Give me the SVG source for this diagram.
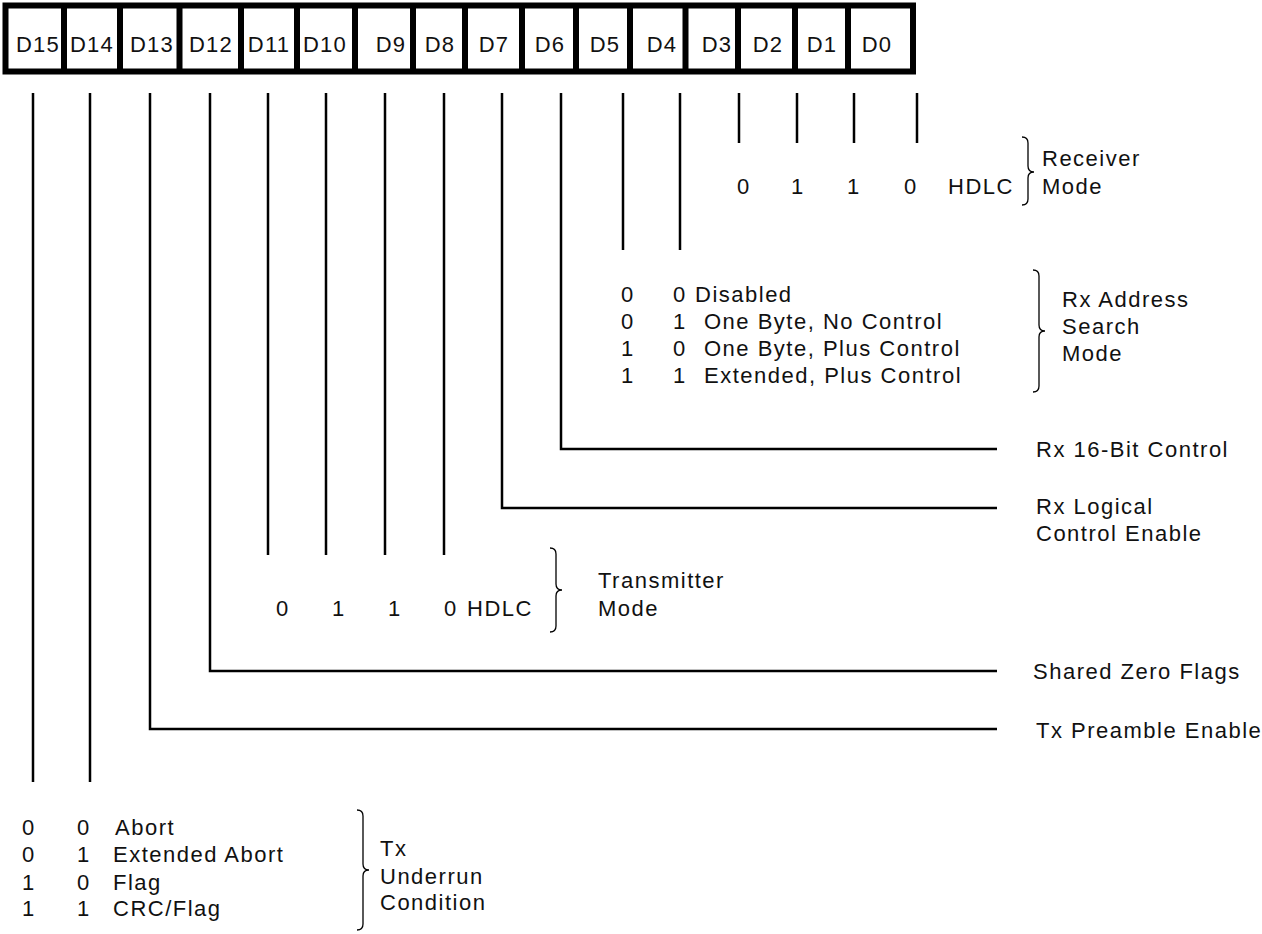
<svg xmlns="http://www.w3.org/2000/svg" width="1262" height="934" viewBox="0 0 1262 934">
<style>
text{font-family:"Liberation Sans",Arial,sans-serif;fill:#111;}
.cell{font-size:22px;text-anchor:middle;letter-spacing:1.2px;}
.t{font-size:22px;letter-spacing:1.5px;}
.c{font-size:22px;text-anchor:middle;}
.ln{stroke:#000;stroke-width:2.5;fill:none;}
.br{stroke:#000;stroke-width:1.3;fill:none;}
.box{stroke:#000;stroke-width:6;fill:#fff;}
</style>
<rect width="1262" height="934" fill="#fff"/>
<g id="register">
<rect class="box" x="5.5" y="5.5" width="907.5" height="66"/>
<path class="ln" style="stroke-width:6" d="M64 5v67M120 5v67M179.5 5v67M241 5v67M297 5v67M355 5v67M413 5v67M465 5v67M522 5v67M576 5v67M630 5v67M685.5 5v67M738 5v67M795 5v67M848 5v67"/>
<text class="cell" x="38" y="52">D15</text>
<text class="cell" x="92" y="52">D14</text>
<text class="cell" x="152" y="52">D13</text>
<text class="cell" x="211" y="52">D12</text>
<text class="cell" x="269" y="52">D11</text>
<text class="cell" x="325" y="52">D10</text>
<text class="cell" x="391" y="52">D9</text>
<text class="cell" x="440" y="52">D8</text>
<text class="cell" x="494" y="52">D7</text>
<text class="cell" x="550" y="52">D6</text>
<text class="cell" x="605" y="52">D5</text>
<text class="cell" x="662" y="52">D4</text>
<text class="cell" x="717" y="52">D3</text>
<text class="cell" x="768" y="52">D2</text>
<text class="cell" x="822" y="52">D1</text>
<text class="cell" x="877" y="52">D0</text>
</g>
<g id="connectors">
<path class="ln" d="M33 93V782M90 93V782"/>
<path class="ln" d="M150 93V729H997"/>
<path class="ln" d="M210 93V671H997"/>
<path class="ln" d="M268 93V555M326 93V555M385 93V555M444 93V555"/>
<path class="ln" d="M502 93V508H997"/>
<path class="ln" d="M561 93V449H997"/>
<path class="ln" d="M623 93V250M680 93V250"/>
<path class="ln" d="M739 93V143M797 93V143M854 93V143M917 93V143"/>
</g>
<g id="receiver-mode">
<text class="c" x="743" y="194">0</text>
<text class="c" x="797" y="194">1</text>
<text class="c" x="853" y="194">1</text>
<text class="c" x="910" y="194">0</text>
<text class="t" x="948" y="194">HDLC</text>
<path class="br" d="M1022 137Q1028 137 1028 143V166Q1028 172 1034 172Q1028 172 1028 178V199Q1028 205 1022 205"/>
<text class="t" x="1042" y="166">Receiver</text>
<text class="t" x="1042" y="194">Mode</text>
</g>
<g id="rx-address-search-mode">
<text class="c" x="627" y="302">0</text><text class="c" x="679" y="302">0</text><text class="t" x="695" y="302">Disabled</text>
<text class="c" x="627" y="329">0</text><text class="c" x="679" y="329">1</text><text class="t" x="704" y="329">One Byte, No Control</text>
<text class="c" x="627" y="356">1</text><text class="c" x="679" y="356">0</text><text class="t" x="704" y="356">One Byte, Plus Control</text>
<text class="c" x="627" y="383">1</text><text class="c" x="679" y="383">1</text><text class="t" x="704" y="383">Extended, Plus Control</text>
<path class="br" d="M1033 270Q1039 270 1039 276V325Q1039 331 1045 331Q1039 331 1039 337V386Q1039 392 1033 392"/>
<text class="t" x="1062" y="307">Rx Address</text>
<text class="t" x="1062" y="334">Search</text>
<text class="t" x="1062" y="361">Mode</text>
</g>
<g id="rx-16-bit-control">
<text class="t" x="1036" y="457">Rx 16-Bit Control</text>
</g>
<g id="rx-logical-control-enable">
<text class="t" x="1036" y="514">Rx Logical</text>
<text class="t" x="1036" y="541">Control Enable</text>
</g>
<g id="transmitter-mode">
<text class="c" x="282" y="616">0</text>
<text class="c" x="338" y="616">1</text>
<text class="c" x="394" y="616">1</text>
<text class="c" x="450" y="616">0</text>
<text class="t" x="467" y="616">HDLC</text>
<path class="br" d="M550 548Q556 548 556 554V584Q556 590 562 590Q556 590 556 596V626Q556 632 550 632"/>
<text class="t" x="598" y="588">Transmitter</text>
<text class="t" x="598" y="616">Mode</text>
</g>
<g id="shared-zero-flags">
<text class="t" x="1033" y="679">Shared Zero Flags</text>
</g>
<g id="tx-preamble-enable">
<text class="t" x="1036" y="738">Tx Preamble Enable</text>
</g>
<g id="tx-underrun-condition">
<text class="c" x="28" y="835">0</text><text class="c" x="83" y="835">0</text><text class="t" x="115" y="835">Abort</text>
<text class="c" x="28" y="862">0</text><text class="c" x="83" y="862">1</text><text class="t" x="113" y="862">Extended Abort</text>
<text class="c" x="28" y="890">1</text><text class="c" x="83" y="890">0</text><text class="t" x="113" y="890">Flag</text>
<text class="c" x="28" y="916">1</text><text class="c" x="83" y="916">1</text><text class="t" x="113" y="916">CRC/Flag</text>
<path class="br" d="M357 810Q363 810 363 816V864Q363 870 369 870Q363 870 363 876V924Q363 930 357 930"/>
<text class="t" x="380" y="856">Tx</text>
<text class="t" x="380" y="884">Underrun</text>
<text class="t" x="380" y="910">Condition</text>
</g>
</svg>
